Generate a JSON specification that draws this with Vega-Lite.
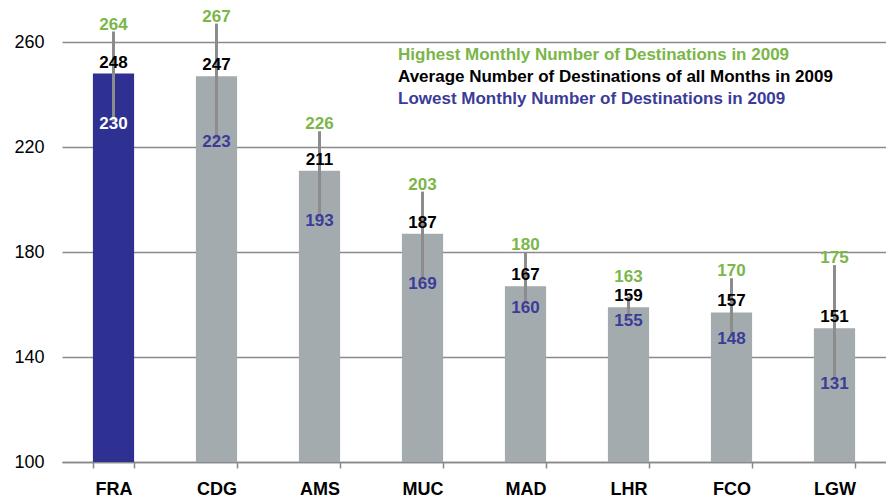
{
  "$schema": "https://vega.github.io/schema/vega-lite/v6.json",
  "width": 824,
  "height": 462,
  "autosize": {"type": "none"},
  "padding": {"left": 62, "top": 0, "right": 0, "bottom": 40},
  "background": "white",
  "config": {"view": {"stroke": null}, "font": "Liberation Sans"},
  "data": {"values": [
    {"airport": "FRA", "series": "Highest Monthly Number of Destinations in 2009", "value": 264},
    {"airport": "FRA", "series": "Average Number of Destinations of all Months in 2009", "value": 248},
    {"airport": "FRA", "series": "Lowest Monthly Number of Destinations in 2009", "value": 230},
    {"airport": "CDG", "series": "Highest Monthly Number of Destinations in 2009", "value": 267},
    {"airport": "CDG", "series": "Average Number of Destinations of all Months in 2009", "value": 247},
    {"airport": "CDG", "series": "Lowest Monthly Number of Destinations in 2009", "value": 223},
    {"airport": "AMS", "series": "Highest Monthly Number of Destinations in 2009", "value": 226},
    {"airport": "AMS", "series": "Average Number of Destinations of all Months in 2009", "value": 211},
    {"airport": "AMS", "series": "Lowest Monthly Number of Destinations in 2009", "value": 193},
    {"airport": "MUC", "series": "Highest Monthly Number of Destinations in 2009", "value": 203},
    {"airport": "MUC", "series": "Average Number of Destinations of all Months in 2009", "value": 187},
    {"airport": "MUC", "series": "Lowest Monthly Number of Destinations in 2009", "value": 169},
    {"airport": "MAD", "series": "Highest Monthly Number of Destinations in 2009", "value": 180},
    {"airport": "MAD", "series": "Average Number of Destinations of all Months in 2009", "value": 167},
    {"airport": "MAD", "series": "Lowest Monthly Number of Destinations in 2009", "value": 160},
    {"airport": "LHR", "series": "Highest Monthly Number of Destinations in 2009", "value": 163},
    {"airport": "LHR", "series": "Average Number of Destinations of all Months in 2009", "value": 159},
    {"airport": "LHR", "series": "Lowest Monthly Number of Destinations in 2009", "value": 155},
    {"airport": "FCO", "series": "Highest Monthly Number of Destinations in 2009", "value": 170},
    {"airport": "FCO", "series": "Average Number of Destinations of all Months in 2009", "value": 157},
    {"airport": "FCO", "series": "Lowest Monthly Number of Destinations in 2009", "value": 148},
    {"airport": "LGW", "series": "Highest Monthly Number of Destinations in 2009", "value": 175},
    {"airport": "LGW", "series": "Average Number of Destinations of all Months in 2009", "value": 151},
    {"airport": "LGW", "series": "Lowest Monthly Number of Destinations in 2009", "value": 131}
  ]},
  "encoding": {
    "x": {
      "field": "airport", "type": "nominal", "sort": null,
      "scale": {"paddingInner": 0.6, "paddingOuter": 0.3},
      "axis": {
        "title": null, "labelAngle": 0, "labelFontSize": 18, "labelFontWeight": "bold",
        "labelColor": "black", "tickBand": "extent", "tickSize": 6, "tickColor": "#888888",
        "tickWidth": 1.5, "domainColor": "#888888", "domainWidth": 1.5, "labelPadding": 12
      }
    }
  },
  "layer": [
    {
      "transform": [{"filter": "datum.series === 'Average Number of Destinations of all Months in 2009'"}],
      "mark": {"type": "bar"},
      "encoding": {
        "y": {
          "field": "value", "type": "quantitative", "title": null,
          "scale": {"domain": [100, 276], "nice": false, "zero": false},
          "axis": {
            "values": [100, 140, 180, 220, 260], "grid": true, "gridColor": "#8a8a8a",
            "gridWidth": 1.5, "domain": false, "ticks": false, "labelFontSize": 18,
            "labelColor": "black", "labelPadding": 18
          }
        },
        "y2": {"datum": 100},
        "fill": {"condition": {"test": "datum.airport === 'FRA'", "value": "#2e3192"}, "value": "#a3abae"}
      }
    },
    {
      "mark": {"type": "rule", "color": "#8c8c8c", "strokeWidth": 3},
      "encoding": {
        "y": {"aggregate": "min", "field": "value", "type": "quantitative", "title": null},
        "y2": {"aggregate": "max", "field": "value"}
      }
    },
    {
      "transform": [
        {"joinaggregate": [{"op": "median", "field": "value", "as": "mid"}], "groupby": ["airport"]},
        {"calculate": "max(datum.value, datum.mid + 9)", "as": "labelPos"},
        {"filter": "datum.series === 'Highest Monthly Number of Destinations in 2009'"}
      ],
      "mark": {"type": "text", "baseline": "alphabetic", "dy": -2, "fontSize": 17, "fontWeight": "bold"},
      "encoding": {
        "y": {"field": "labelPos", "type": "quantitative", "title": null},
        "text": {"field": "value", "type": "quantitative"},
        "color": {
          "field": "series", "type": "nominal",
          "scale": {
            "domain": ["Highest Monthly Number of Destinations in 2009", "Average Number of Destinations of all Months in 2009", "Lowest Monthly Number of Destinations in 2009"],
            "range": ["#7ab648", "#000000", "#3b3c98"]
          },
          "legend": {
            "title": null, "orient": "none", "legendX": 319, "legendY": 46,
            "symbolOpacity": 0, "symbolSize": 0, "symbolStrokeWidth": 0, "labelFontSize": 17,
            "labelFontWeight": "bold", "labelLimit": 700, "labelOffset": 0, "rowPadding": 4,
            "encode": {"labels": {"update": {"fill": {"scale": "color", "field": "value"}}}}
          }
        }
      }
    },
    {
      "transform": [{"filter": "datum.series === 'Average Number of Destinations of all Months in 2009'"}],
      "mark": {"type": "text", "baseline": "alphabetic", "dy": -6, "fontSize": 17, "fontWeight": "bold"},
      "encoding": {
        "y": {"field": "value", "type": "quantitative", "title": null},
        "text": {"field": "value", "type": "quantitative"},
        "color": {"field": "series", "type": "nominal"}
      }
    },
    {
      "transform": [{"filter": "datum.series === 'Lowest Monthly Number of Destinations in 2009'"}],
      "mark": {"type": "text", "baseline": "middle", "dy": 3, "fontSize": 17, "fontWeight": "bold"},
      "encoding": {
        "y": {"field": "value", "type": "quantitative", "title": null},
        "text": {"field": "value", "type": "quantitative"},
        "color": {
          "condition": {"test": "datum.airport === 'FRA'", "value": "#ffffff"},
          "field": "series", "type": "nominal"
        }
      }
    }
  ]
}
